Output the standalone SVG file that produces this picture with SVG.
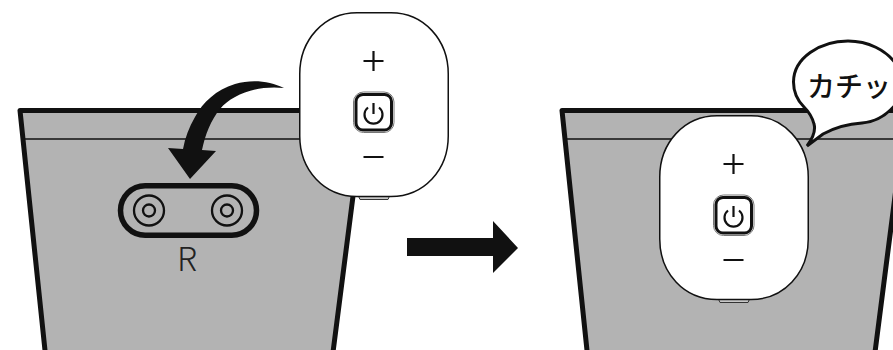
<svg xmlns="http://www.w3.org/2000/svg" width="893" height="350" viewBox="0 0 893 350">
<style>
.bucket{fill:#b3b3b3;stroke:#111;stroke-width:5;stroke-linejoin:round}
.rim{fill:none;stroke:#111;stroke-width:1.5}
.shell{fill:#fff;stroke:#111;stroke-width:1.5}
.tab{fill:#c8c8c8;stroke:#333;stroke-width:1}
.sym{fill:none;stroke:#111;stroke-width:2.200}
.btnO{fill:#fff;stroke:#777;stroke-width:1}
.btnI{fill:#fff;stroke:#111;stroke-width:3}
.ring{fill:none;stroke:#111;stroke-width:2.300}
.solid{fill:#111;stroke:none}
</style>
<defs>
<g id="remote">
<path class="tab" d="M59 183H91L89 187.500H61Z"/>
<path class="shell" d="M58 0.750H92C125 0.750 149.250 28 149.250 62V124C149.250 158 125 184.500 92 184.500H58C25 184.500 0.750 158 0.750 124V62C0.750 28 25 0.750 58 0.750Z"/>
<path class="sym" d="M64.500 49H84.500M74.500 39V59M64.500 145H84.500"/>
<rect class="btnO" x="54.500" y="80" width="40.500" height="40.500" rx="10"/>
<rect class="btnI" x="57" y="82.500" width="35.500" height="35.500" rx="7"/>
<path class="sym" d="M69 95.500A9 9 0 1 0 80 95.500M74.500 91V102"/>
</g>
</defs>
<g id="bucket-left">
<path class="bucket" d="M20 110.500H364L332 360H46Z"/>
<path class="rim" d="M24 139H358"/>
</g>
<g id="socket">
<rect x="120.500" y="185.750" width="136" height="49.500" rx="24.750" fill="none" stroke="#111" stroke-width="5.500"/>
<circle class="ring" cx="149" cy="210.500" r="15"/>
<circle class="ring" cx="149" cy="210.500" r="6"/>
<circle class="ring" cx="227" cy="210.500" r="15"/>
<circle class="ring" cx="227" cy="210.500" r="6"/>
<text x="187" y="271" text-anchor="middle" font-family="'Noto Sans CJK JP','Noto Sans',sans-serif" font-weight="300" font-size="33" fill="#222">R</text>
</g>
<g id="remote-left"><use href="#remote" x="299" y="12"/></g>
<g id="bucket-right">
<path class="bucket" d="M562 110.500H906L874 360H588Z"/>
<path class="rim" d="M566 139H893"/>
</g>
<g id="bubble">
<path d="M807 146C813 138 816 131 814 124C812 116 808 111 804 107C798 101 793.500 92 793.500 82C793.500 58 820 41 848 41C868 41 886 50 896 64V104C886 116 876 122 862 123C846 124 834 128 823 134Z" fill="#fff" stroke="#111" stroke-width="3" stroke-linejoin="miter"/>
<text x="807" y="97" font-family="'Noto Sans CJK JP',sans-serif" font-weight="500" font-size="28" fill="#111">カチッ</text>
</g>
<g id="remote-right"><use href="#remote" x="659" y="115"/></g>
<g id="connectors">
<path class="solid" d="M284 88C270 81 252 79 235 84C216 90 203 102 195 117C189 127 185 138 183 149L168 148L190 179L216 151L202 150C205 135 211 120 220 109C232 95 256 85 284 88Z"/>
<path class="solid" d="M407 238H493V221L518 248L493 273V256H407Z"/>
</g>
</svg>
